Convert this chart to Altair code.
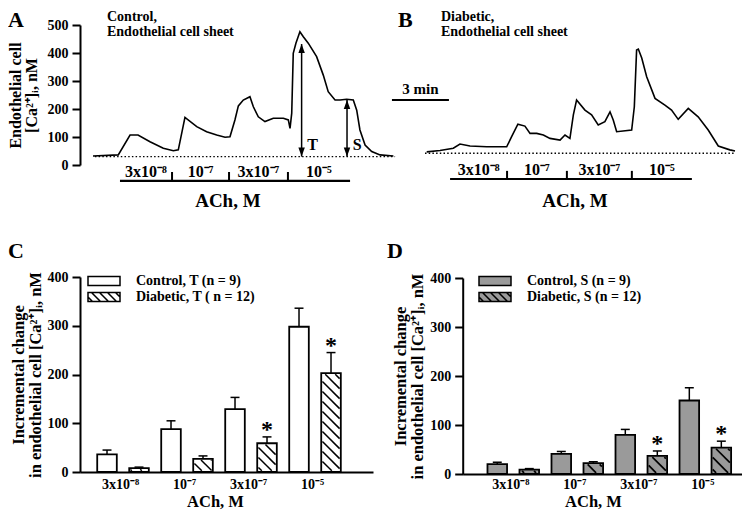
import json
import numpy as np
import pandas as pd
import altair as alt

# ---------------- values ----------------
A_TIME = [0.0, 1.33, 1.95, 2.37, 3.0, 3.7, 4.23, 4.49, 4.84, 5.46,
          5.98, 6.51, 6.95, 7.21, 7.47, 7.65, 7.91, 8.26, 8.44, 8.7,
          9.05, 9.49, 10.02, 10.28, 10.37, 10.46, 10.54, 10.68, 10.89, 11.07,
          11.33, 11.77, 12.12, 12.38, 12.74, 13.0, 13.35, 13.7, 13.88, 14.05,
          14.32, 14.67, 15.11, 15.81]
A_CA = [32, 36, 107, 107, 83, 60, 51, 54, 170, 137,
        119, 107, 99, 101, 161, 211, 232, 244, 208, 172,
        155, 167, 167, 161, 131, 185, 399, 435, 476, 458,
        435, 387, 321, 262, 232, 232, 235, 232, 196, 125,
        71, 48, 36, 32]
B_TIME = [0.09, 0.79, 1.49, 1.84, 2.37, 3.25, 4.3, 4.56, 4.89, 5.26,
          5.53, 5.88, 6.23, 6.58, 7.11, 7.37, 7.63, 7.81, 7.98, 8.42,
          8.77, 9.12, 9.47, 9.74, 9.91, 10.09, 10.88, 11.02, 11.14, 11.23,
          11.41, 11.67, 12.11, 12.63, 12.98, 13.33, 13.86, 14.38, 14.91, 15.44,
          16.05, 16.32]
B_CA = [47, 52, 60, 75, 68, 65, 65, 101, 146, 139,
        113, 113, 107, 95, 89, 107, 95, 179, 232, 196,
        179, 143, 155, 190, 161, 119, 125, 208, 411, 414,
        382, 315, 238, 214, 196, 163, 202, 172, 125, 68,
        54, 50]
A_BASE = 30
B_BASE = 42
A_BASE_SPAN = [0.1, 15.9]
B_BASE_SPAN = [0.0, 16.3]
A_EDGES = [1.42, 4.16, 7.16, 10.26, 13.53]
B_EDGES = [1.32, 4.32, 7.47, 10.89, 14.05]
DOSES = ["3x10⁻⁸", "10⁻⁷", "3x10⁻⁷", "10⁻⁵"]
ARROW_T = [10.98, 13.37]
ARROW_TOP = [432, 232]
ARROW_LAB = ["T", "S"]
SCALE_BAR = [-1.74, 1.26]

C_CONTROL = [36, 88, 129, 298]
C_CONTROL_SE = [9, 17, 24, 38]
C_DIAB = [8, 27, 59, 203]
C_DIAB_SE = [2, 6, 13, 42]
D_CONTROL = [20, 41, 80, 150]
D_CONTROL_SE = [4, 5, 11, 26]
D_DIAB = [9, 22, 37, 54]
D_DIAB_SE = [2, 3, 10, 13]
C_SIG = [False, False, True, True]
D_SIG = [False, False, True, True]
C_LABELS = ["Control, T  (n = 9)", "Diabetic, T ( n = 12)"]
D_LABELS = ["Control, S  (n = 9)", "Diabetic, S (n = 12)"]

# ---------------- layout / style ----------------
SERIF = "Liberation Serif, Times New Roman, serif"
OX = OY = 8
W, H = 734, 502
ONE = pd.DataFrame({"k": [0]})


def px(x):
    return x - OX


def py(y):
    return y - OY


def lin(dom, rng):
    return alt.Scale(domain=dom, range=rng, nice=False, zero=False)


def T(**kw):
    d = dict(font=SERIF, fontWeight="bold", color="black")
    d.update(kw)
    return d


def label(text, x, y, size, align="left"):
    return alt.Chart(ONE).mark_text(
        **T(fontSize=size, align=align, baseline="alphabetic", x=x, y=y)
    ).encode(text=alt.value(text))


def trace_panel(times, ca, x0, x1, t_max, base, base_span, edges, bar_y, tick_top,
                lab_y, ach_t, y_axis):
    xs = lin([0, t_max], [px(x0), px(x1)])
    ys = lin([0, 500], [py(165), py(25)])
    X = lambda f: alt.X(f, scale=xs, axis=None)
    Y = lambda f: alt.Y(f, scale=ys, axis=None)
    tr = pd.DataFrame({"t": times, "ca": ca})
    layers = [
        alt.Chart(tr).mark_line(color="black", strokeWidth=1.6).encode(
            x=X("t:Q"), y=alt.Y("ca:Q", scale=ys, axis=y_axis)),
        alt.Chart(pd.DataFrame({"t0": [base_span[0]], "t1": [base_span[1]], "y": [base]}))
        .mark_rule(color="black", strokeWidth=1.3, strokeDash=[1.5, 2.2])
        .encode(x=X("t0:Q"), x2="t1:Q", y=Y("y:Q")),
        alt.Chart(pd.DataFrame({"t0": [edges[0]], "t1": [edges[-1]], "y": [bar_y]}))
        .mark_rule(color="black", strokeWidth=2.2)
        .encode(x=X("t0:Q"), x2="t1:Q", y=Y("y:Q")),
        alt.Chart(pd.DataFrame({"t": edges[1:-1], "y0": bar_y, "y1": tick_top}))
        .mark_rule(color="black", strokeWidth=2)
        .encode(x=X("t:Q"), y=Y("y0:Q"), y2="y1:Q"),
        alt.Chart(pd.DataFrame({
            "t": [(edges[i] + edges[i + 1]) / 2 for i in range(len(DOSES))],
            "y": lab_y, "lab": DOSES}))
        .mark_text(**T(fontSize=16, align="center", baseline="alphabetic"))
        .encode(x=X("t:Q"), y=Y("y:Q"), text="lab:N"),
        alt.Chart(pd.DataFrame({"t": [ach_t], "y": [-150], "lab": ["ACh, M"]}))
        .mark_text(**T(fontSize=19, align="center", baseline="alphabetic"))
        .encode(x=X("t:Q"), y=Y("y:Q"), text="lab:N"),
    ]
    return layers, X, Y


yA_axis = alt.Axis(orient="left", offset=-px(80), values=[0, 100, 200, 300, 400, 500],
                   tickSize=8, labelPadding=4, labelFontSize=14,
                   title=["Endothelial cell", "[Ca²⁺]ᵢ, nM"], titleFontSize=16,
                   titleLineHeight=16, titleAngle=270, titleBaseline="bottom",
                   titleAlign="center", titleX=-57)

layA, XA, YA = trace_panel(A_TIME, A_CA, 93, 393, 15.79, A_BASE, A_BASE_SPAN, A_EDGES,
                           -57, -25, -43, 7.1, yA_axis)
UP = "M0,0L-0.36,1L0.36,1Z"
DOWN = "M0,0L-0.36,-1L0.36,-1Z"
arr = pd.DataFrame({"t": ARROW_T, "lo": A_BASE, "hi": ARROW_TOP, "lab": ARROW_LAB,
                    "lt": [t + 0.3 for t in ARROW_T]})
layA += [
    alt.Chart(arr).mark_rule(color="black", strokeWidth=1.5)
    .encode(x=XA("t:Q"), y=YA("lo:Q"), y2="hi:Q"),
    alt.Chart(arr).mark_point(shape=UP, size=324, filled=True, color="black", opacity=1, strokeWidth=0)
    .encode(x=XA("t:Q"), y=YA("hi:Q")),
    alt.Chart(arr).mark_point(shape=DOWN, size=324, filled=True, color="black", opacity=1, strokeWidth=0)
    .encode(x=XA("t:Q"), y=YA("lo:Q")),
    alt.Chart(arr).mark_text(**T(fontSize=16, align="left", baseline="alphabetic", yOffset=-7))
    .encode(x=XA("lt:Q"), y=YA("lo:Q"), text="lab:N"),
]

layB, XB, YB = trace_panel(B_TIME, B_CA, 425, 735, 16.32, B_BASE, B_BASE_SPAN, B_EDGES,
                           -50, -21, -36, 7.9, None)
layB += [
    alt.Chart(pd.DataFrame({"t0": [SCALE_BAR[0]], "t1": [SCALE_BAR[1]], "y": [232]}))
    .mark_rule(color="black", strokeWidth=2)
    .encode(x=XB("t0:Q"), x2="t1:Q", y=YB("y:Q")),
    alt.Chart(pd.DataFrame({"t": [sum(SCALE_BAR) / 2], "y": [254], "lab": ["3 min"]}))
    .mark_text(**T(fontSize=15, align="center", baseline="alphabetic"))
    .encode(x=XB("t:Q"), y=YB("y:Q"), text="lab:N"),
]

OFF, HW, CAP = 0.25, 0.153, 0.07


def hatch_rows(df, kx, ky, step, inset=1.2):
    rows = []
    for _, r in df.iterrows():
        a, b = r.x0 * kx + inset, r.x1 * kx - inset
        top, bot = -r.v * ky + inset, -inset
        if bot - top < 1:
            continue
        c = np.ceil((top - b) / step) * step
        while c <= bot - a:
            xl, xh = max(a, top - c), min(b, bot - c)
            if xh - xl > 0.4:
                rows.append(dict(hx0=xl / kx, hx1=xh / kx,
                                 hy0=-(xl + c) / ky, hy1=-(xh + c) / ky))
            c += step
    return pd.DataFrame(rows)


LEG_R = 5.0  # sqrt(symbolSize)/2


def legend_paths():
    r = LEG_R
    hw, hh = 16.0, 4.5
    plain = f"M{-hw/r},{-hh/r}H{hw/r}V{hh/r}H{-hw/r}Z"
    segs = ""
    for c in [-16, -8, 0, 8, 16]:
        xl, xh = max(-hw, -hh - c), min(hw, hh - c)
        if xh > xl:
            segs += f"M{xl/r:.4f},{(xl + c)/r:.4f}L{xh/r:.4f},{(xh + c)/r:.4f}"
    return plain, plain + segs


P_PLAIN, P_HATCH = legend_paths()
Y_TITLE = ["Incremental change", "in endothelial cell [Ca²⁺]ᵢ, nM"]
LABEL_EXPR = json.dumps(DOSES, ensure_ascii=False) + "[datum.value]"


def bar_panel(ctrl, ctrl_se, diab, diab_se, sig, labels, x_dom, axis_x0, axis_x1,
              y0_page, y400_page, fillc, step, hatch_w, ach_x, leg_xy):
    x_rng = [px(axis_x0), px(axis_x1)]
    y_rng = [py(y0_page), py(y400_page)]
    xs = lin(x_dom, x_rng)
    ys = lin([0, 400], y_rng)
    kx = (x_rng[1] - x_rng[0]) / (x_dom[1] - x_dom[0])
    ky = (y_rng[0] - y_rng[1]) / 400.0
    rows = []
    for i in range(4):
        for s, (vals, ses, off) in enumerate([(ctrl, ctrl_se, -OFF), (diab, diab_se, OFF)]):
            xc = i + off
            rows.append(dict(series=labels[s], xc=xc, x0=xc - HW, x1=xc + HW,
                             cl=xc - CAP, cr=xc + CAP, v=vals[i], top=vals[i] + ses[i],
                             half=vals[i] / 2.0, zero=0, sig=bool(sig[i]) and s == 1,
                             hatched=(s == 1)))
    df = pd.DataFrame(rows)
    hat = hatch_rows(df[df.hatched], kx, ky, step)
    X = lambda f: alt.X(f, scale=xs, axis=None)
    Y = lambda f: alt.Y(f, scale=ys, axis=None)
    y_axis = alt.Axis(orient="left", offset=-px(axis_x0), values=[0, 100, 200, 300, 400],
                      tickSize=8, labelPadding=4, labelFontSize=14, title=Y_TITLE,
                      titleFontSize=16.5, titleLineHeight=17, titleAngle=270,
                      titleBaseline="bottom", titleAlign="center", titleX=-54)
    x_axis = alt.Axis(orient="bottom", offset=-(H - py(y0_page)), values=[0, 1, 2, 3],
                      labelExpr=LABEL_EXPR, ticks=False, labelFontSize=14,
                      labelBaseline="alphabetic", labelPadding=round(488 - y0_page),
                      labelAlign="center", labelOffset=-3,
                      title="ACh, M", titleFontSize=16.5, titleX=px(ach_x),
                      titleY=round(506 - y0_page), titleBaseline="alphabetic",
                      titleAlign="center")
    leg = alt.Legend(orient="none", legendX=px(leg_xy[0]), legendY=py(leg_xy[1]), title=None,
                     symbolSize=(2 * LEG_R) ** 2, symbolStrokeWidth=1.5,
                     symbolStrokeColor="black", symbolOffset=9,
                     labelFont=SERIF, labelFontSize=14, labelFontWeight="bold",
                     labelColor="black", labelOffset=25, rowPadding=0, padding=0,
                     labelLimit=400)
    return [
        alt.Chart(df).mark_point(filled=True, size=1, strokeWidth=1.5, opacity=1)
        .encode(x=X("xc:Q"), y=Y("half:Q"),
                fill=alt.Fill("series:N", scale=alt.Scale(domain=labels, range=[fillc, fillc]),
                              legend=leg),
                stroke=alt.Stroke("series:N",
                                  scale=alt.Scale(domain=labels, range=["black", "black"]),
                                  legend=leg),
                shape=alt.Shape("series:N",
                                scale=alt.Scale(domain=labels, range=[P_PLAIN, P_HATCH]),
                                legend=leg)),
        alt.Chart(df).mark_rect(fill=fillc, stroke="black", strokeWidth=1.8)
        .encode(x=alt.X("x0:Q", scale=xs, axis=x_axis), x2="x1:Q",
                y=alt.Y("v:Q", scale=ys, axis=y_axis), y2="zero:Q"),
        alt.Chart(hat).mark_rule(color="black", strokeWidth=hatch_w)
        .encode(x=X("hx0:Q"), x2="hx1:Q", y=Y("hy0:Q"), y2="hy1:Q"),
        alt.Chart(df).mark_rule(color="black", strokeWidth=1.5)
        .encode(x=X("xc:Q"), y=Y("v:Q"), y2="top:Q"),
        alt.Chart(df).mark_rule(color="black", strokeWidth=1.5)
        .encode(x=X("cl:Q"), x2="cr:Q", y=Y("top:Q")),
        alt.Chart(df[df.sig]).mark_text(**T(text="*", fontSize=24, align="center",
                                            baseline="alphabetic"))
        .encode(x=X("xc:Q"), y=Y("top:Q")),
    ]


layC = bar_panel(C_CONTROL, C_CONTROL_SE, C_DIAB, C_DIAB_SE, C_SIG, C_LABELS,
                 [-0.672, 3.906], 80, 373, 472, 277, "white", 10, 1.5, 215, (88, 274))
layD = bar_panel(D_CONTROL, D_CONTROL_SE, D_DIAB, D_DIAB_SE, D_SIG, D_LABELS,
                 [-0.79, 3.573], 462.7, 742, 474, 278, "#9a9a9a", 12, 1.7, 593, (479, 274))

notes = [
    label("A", px(8), py(27), 22),
    label("Control,", px(107), py(21), 14),
    label("Endothelial cell sheet", px(107), py(36), 14),
    label("B", px(398), py(27), 22),
    label("Diabetic,", px(441), py(21), 14),
    label("Endothelial cell sheet", px(441), py(36), 14),
    label("C", px(8), py(258), 22),
    label("D", px(387), py(258), 22),
]

chart = alt.layer(*layA, *layB, *layC, *layD, *notes).resolve_scale(
    x="independent", y="independent", fill="independent", shape="independent",
    stroke="independent"
).resolve_axis(
    x="independent", y="independent"
).resolve_legend(
    fill="independent", shape="independent", stroke="independent"
).properties(
    width=W, height=H, padding=0, autosize=alt.AutoSizeParams(type="none")
).configure_view(
    strokeWidth=0
).configure_legend(
    rowPadding=0
).configure_axis(
    labelFont=SERIF, labelFontWeight="bold", labelColor="black",
    titleFont=SERIF, titleFontWeight="bold", titleColor="black",
    domainColor="black", tickColor="black", domainWidth=2, tickWidth=2,
    grid=False, labelFlush=False, labelOverlap=False
)

chart.save("out.html", embed_options={"renderer": "svg", "actions": False})
